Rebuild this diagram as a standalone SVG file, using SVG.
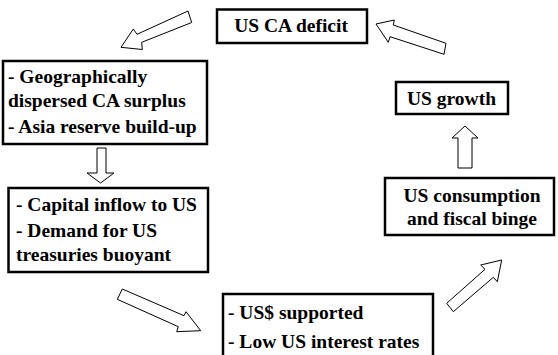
<svg xmlns="http://www.w3.org/2000/svg" width="558" height="355" viewBox="0 0 558 355">
<style>
.box{fill:#fff;stroke:#000;stroke-width:2.5}
.arr{fill:#fff;stroke:#000;stroke-width:1;stroke-linejoin:miter}
.t{font-family:'Liberation Serif','Times New Roman',serif;font-weight:bold;font-size:19.5px;fill:#000}
.c{text-anchor:middle}
</style>
<rect width="558" height="355" fill="#fff"/>
<g id="connectors">
<polygon class="arr" points="188,11 137,34.3 133.3,29 121,47.3 142.3,49.5 141.7,42.3 191.7,22.5"/>
<polygon class="arr" points="97,148 106,148 106,173 114,173 100.5,183 87,173 97,173"/>
<polygon class="arr" points="122.3,289 184,315.7 186,311.7 200.7,330.7 176.7,331.7 178.3,326.7 117.3,299.3"/>
<polygon class="arr" points="446.7,303.3 485,269.3 480.7,265 501.7,260 497.3,281.7 493.3,277.3 453.3,311.7"/>
<polygon class="arr" points="458,168 458,138 452,138 465,126 478,138 472,138 472,168"/>
<polygon class="arr" points="376,24 394.3,20 393.3,25 446,43.3 444,54.3 390,36.7 388.3,42.3"/>
</g>
<g class="t">
<g id="n-deficit">
<rect class="box" x="217" y="9.5" width="150" height="33.5"/>
<text class="c" x="291" y="32">US CA deficit</text>
</g>
<g id="n-surplus">
<rect class="box" x="3" y="61" width="204" height="83"/>
<text x="8" y="83">- Geographically</text>
<text x="8" y="107">dispersed CA surplus</text>
<text x="8" y="133">- Asia reserve build-up</text>
</g>
<g id="n-inflow">
<rect class="box" x="8.5" y="188" width="199.5" height="84"/>
<text x="16" y="211">- Capital inflow to US</text>
<text x="16" y="237">- Demand for US</text>
<text x="16" y="261">treasuries buoyant</text>
</g>
<g id="n-rates">
<rect class="box" x="223" y="294" width="210" height="70"/>
<text x="228" y="319">- US$ supported</text>
<text x="228" y="348">- Low US interest rates</text>
</g>
<g id="n-consumption">
<rect class="box" x="385" y="178" width="169" height="57"/>
<text class="c" x="472" y="202">US consumption</text>
<text class="c" x="472" y="225">and fiscal binge</text>
</g>
<g id="n-growth">
<rect class="box" x="396" y="82" width="112" height="32"/>
<text class="c" x="451.5" y="105">US growth</text>
</g>
</g>
</svg>
